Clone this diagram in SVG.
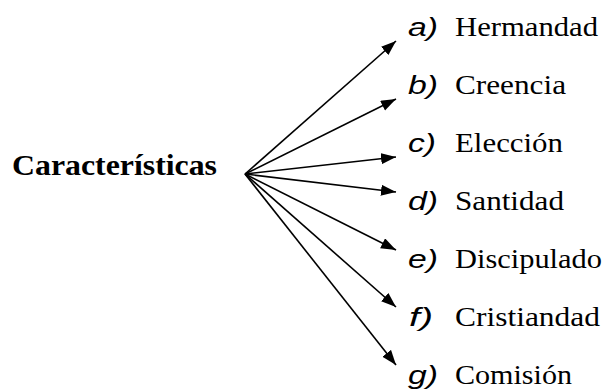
<svg xmlns="http://www.w3.org/2000/svg" width="606" height="389" viewBox="0 0 606 389">
<style>
.w{font-family:"Liberation Serif","Times New Roman",serif;font-size:27px;fill:#000}
.l{font-family:"Liberation Sans",Arial,sans-serif;font-style:italic;font-size:25px;fill:#000}
.t{font-family:"Liberation Serif","Times New Roman",serif;font-size:30px;font-weight:bold;fill:#000}
.c line{stroke:#000;stroke-width:1.6;marker-end:url(#ah)}
</style>
<defs>
<marker id="ah" markerUnits="userSpaceOnUse" markerWidth="16" markerHeight="12" refX="15" refY="5.5" orient="auto">
<path d="M0,0 L15,5.5 L0,11 z" fill="#000"/>
</marker>
</defs>
<g id="root"><text class="t" x="12" y="175" textLength="205" lengthAdjust="spacingAndGlyphs">Características</text></g>
<g class="c" id="connectors">
<line x1="245" y1="174" x2="396" y2="41"/>
<line x1="245" y1="174" x2="396" y2="99"/>
<line x1="245" y1="174" x2="396" y2="157"/>
<line x1="245" y1="174" x2="396" y2="192"/>
<line x1="245" y1="174" x2="396" y2="250"/>
<line x1="245" y1="174" x2="396" y2="307"/>
<line x1="245" y1="174" x2="396" y2="365"/>
</g>
<g id="a"><text class="l" x="408" y="36" textLength="30" lengthAdjust="spacingAndGlyphs">a)</text><text class="w" x="455" y="36" textLength="143" lengthAdjust="spacingAndGlyphs">Hermandad</text></g>
<g id="b"><text class="l" x="408" y="94" textLength="30" lengthAdjust="spacingAndGlyphs">b)</text><text class="w" x="455" y="94" textLength="111" lengthAdjust="spacingAndGlyphs">Creencia</text></g>
<g id="c"><text class="l" x="408" y="152" textLength="28" lengthAdjust="spacingAndGlyphs">c)</text><text class="w" x="455" y="152" textLength="108" lengthAdjust="spacingAndGlyphs">Elección</text></g>
<g id="d"><text class="l" x="408" y="210" textLength="30" lengthAdjust="spacingAndGlyphs">d)</text><text class="w" x="455" y="210" textLength="109" lengthAdjust="spacingAndGlyphs">Santidad</text></g>
<g id="e"><text class="l" x="408" y="268" textLength="30" lengthAdjust="spacingAndGlyphs">e)</text><text class="w" x="455" y="268" textLength="147" lengthAdjust="spacingAndGlyphs">Discipulado</text></g>
<g id="f"><text class="l" x="409" y="326" textLength="24" lengthAdjust="spacingAndGlyphs">f)</text><text class="w" x="455" y="326" textLength="145" lengthAdjust="spacingAndGlyphs">Cristiandad</text></g>
<g id="g"><text class="l" x="408" y="384" textLength="30" lengthAdjust="spacingAndGlyphs">g)</text><text class="w" x="455" y="384" textLength="117" lengthAdjust="spacingAndGlyphs">Comisión</text></g>
</svg>
